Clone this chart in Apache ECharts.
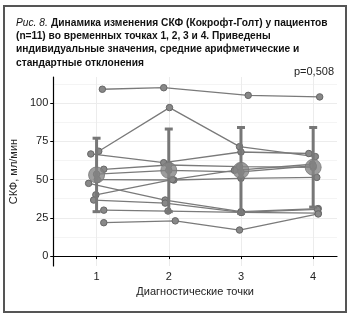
<!DOCTYPE html>
<html><head><meta charset="utf-8">
<script src="https://cdn.jsdelivr.net/npm/echarts@6/dist/echarts.min.js"></script>
<style>html,body{margin:0;padding:0;background:#fff}#c{width:350px;height:316px}</style>
</head><body><div id="c"></div>
<script>
// Time points and tick labels
const timePoints = [1, 2, 3, 4];
const yTicks = [0, 25, 50, 75, 100];
const yMinorTicks = [12.5, 37.5, 62.5, 87.5, 112.5];

// Individual patient values (СКФ, мл/мин) at time points 1..4
const p1 = [109, 110, 105, 104];
const p2 = [68.5, 97, 71.5, 65];
const p3 = [66.7, 61, 68, 67];
const p4 = [56.7, 59.5, 58.4, 58];
const p5 = [50, 49.7, 50.8, 51.4];
const p6 = [47.5, 36.6, 29, 31];
const p7 = [40, 50, 56, 60];
const p8 = [36.6, 34.6, 28.5, 28];
const p9 = [30, 29.4, 28.5, 30.5];
const p10 = [21.8, 23, 17, 27.5];
const p11 = [53.5, 56, 55, 59];
const patients = [p1, p2, p3, p4, p5, p6, p7, p8, p9, p10, p11];

// Horizontal jitter of each patient's points (x position as read)
const jitter1 = [1.08, 1.93, 3.10, 4.09];
const jitter2 = [1.03, 2.01, 2.98, 4.03];
const jitter3 = [0.92, 1.93, 3.00, 3.94];
const jitter4 = [1.10, 2.00, 2.98, 4.00];
const jitter5 = [1.01, 2.07, 3.00, 4.05];
const jitter6 = [0.89, 1.95, 3.00, 4.07];
const jitter7 = [0.99, 2.05, 2.91, 3.99];
const jitter8 = [0.96, 1.95, 3.01, 4.07];
const jitter9 = [1.10, 1.99, 3.00, 4.06];
const jitter10 = [1.10, 2.09, 2.98, 4.07];
const jitter11 = [1.00, 2.00, 3.00, 4.00];
const jitters = [jitter1, jitter2, jitter3, jitter4, jitter5, jitter6, jitter7, jitter8, jitter9, jitter10, jitter11];

// Group means and standard deviations
const means = [53, 56, 56, 58];
const sds = [24, 27, 28, 26];

const chart = echarts.init(document.getElementById('c'), null, {renderer: 'canvas'});
const FONT = '"Liberation Sans", Arial, sans-serif';

const series = [];
patients.forEach((vals, i) => {
  series.push({
    type: 'line',
    data: vals.map((v, k) => [jitters[i][k], v]),
    symbol: 'circle',
    symbolSize: 6.5,
    showSymbol: true,
    lineStyle: {color: '#7a7a7a', width: 1.3},
    itemStyle: {color: '#888888', borderColor: '#666666', borderWidth: 1},
    z: 2,
    animation: false,
    silent: true
  });
});
series.push({
  type: 'custom',
  data: timePoints.map((t, k) => [t, means[k] - sds[k], means[k] + sds[k]]),
  renderItem: function (params, api) {
    const lo = api.coord([api.value(0), api.value(1)]);
    const hi = api.coord([api.value(0), api.value(2)]);
    const hw = 4;
    const st = {stroke: '#777777', lineWidth: 3};
    return {
      type: 'group',
      children: [
        {type: 'line', shape: {x1: lo[0], y1: lo[1], x2: hi[0], y2: hi[1]}, style: st},
        {type: 'line', shape: {x1: lo[0] - hw, y1: lo[1], x2: lo[0] + hw, y2: lo[1]}, style: st},
        {type: 'line', shape: {x1: hi[0] - hw, y1: hi[1], x2: hi[0] + hw, y2: hi[1]}, style: st}
      ]
    };
  },
  z: 3,
  animation: false,
  silent: true
});
series.push({
  type: 'scatter',
  data: timePoints.map((t, k) => [t, means[k]]),
  symbol: 'circle',
  symbolSize: 16,
  itemStyle: {color: '#858585', borderColor: '#777777', borderWidth: 1},
  z: 4,
  animation: false,
  silent: true
});

const option = {
  animation: false,
  grid: {left: 53, right: 13, top: 77, bottom: 50},
  xAxis: {
    type: 'value', min: 0.4, max: 4.33,
    name: 'Диагностические точки', nameLocation: 'middle', nameGap: 20,
    nameTextStyle: {fontFamily: FONT, fontSize: 11, color: '#222'},
    axisLine: {show: true, lineStyle: {color: '#000', width: 1.2}},
    axisTick: {show: true, length: 3, customValues: timePoints, lineStyle: {color: '#000'}},
    axisLabel: {customValues: timePoints, fontFamily: FONT, fontSize: 11, color: '#222', margin: 5},
    splitLine: {show: true, lineStyle: {color: '#ececec', width: 1}}
  },
  yAxis: [{
    type: 'value', min: -6.5, max: 117,
    name: 'СКФ, мл/мин', nameLocation: 'middle', nameGap: 18, nameRotate: 90,
    nameTextStyle: {fontFamily: FONT, fontSize: 11, color: '#222'},
    axisLine: {show: true, lineStyle: {color: '#000', width: 1.2}},
    axisTick: {show: true, length: 3, customValues: yTicks, lineStyle: {color: '#000'}},
    axisLabel: {customValues: yTicks, fontFamily: FONT, fontSize: 11, color: '#222', margin: 5},
    splitLine: {show: true, lineStyle: {color: '#ececec', width: 1}}
  }, {
    type: 'value', min: -6.5, max: 117, position: 'left',
    axisLine: {show: false},
    axisTick: {show: false, customValues: yMinorTicks},
    axisLabel: {show: false, customValues: yMinorTicks},
    splitLine: {show: true, lineStyle: {color: '#f4f4f4', width: 1}}
  }],
  series: series,
  graphic: [
    {type: 'rect', shape: {x: 4, y: 6, width: 342, height: 306},
     style: {fill: 'none', stroke: '#555', lineWidth: 2}, silent: true},
    {type: 'text', left: 16, top: 17, silent: true,
     style: {
       text: '{i|Рис. 8.} {b|Динамика изменения СКФ (Кокрофт-Голт) у пациентов}\n{b|(n=11) во временных точках 1, 2, 3 и 4. Приведены}\n{b|индивидуальные значения, средние арифметические и}\n{b|стандартные отклонения}',
       rich: {
         i: {fontFamily: FONT, fontSize: 10.2, fontStyle: 'italic', fill: '#111', lineHeight: 13.3},
         b: {fontFamily: FONT, fontSize: 10.2, fontWeight: 'bold', fill: '#111', lineHeight: 13.3}
       }
     }},
    {type: 'text', right: 16, top: 66, silent: true,
     style: {text: 'p=0,508', fontFamily: FONT, fontSize: 11, fill: '#222'}}
  ]
};
chart.setOption(option);
</script></body></html>
